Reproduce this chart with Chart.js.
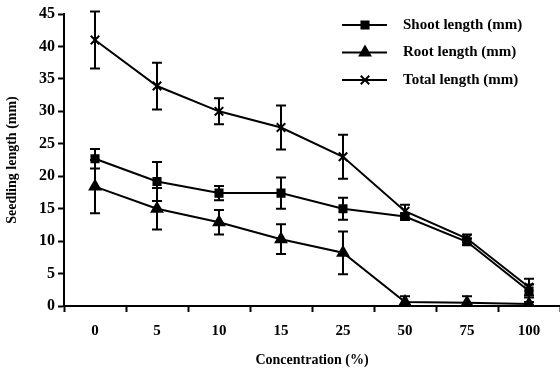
<!DOCTYPE html>
<html>
<head>
<meta charset="utf-8">
<script src="https://cdn.jsdelivr.net/npm/chart.js@4"></script>
<style>
  html, body { margin: 0; padding: 0; background: #fff; }
  #wrap { width: 560px; height: 373px; }
</style>
</head>
<body>
<div id="wrap"><canvas id="grafico" width="560" height="373"></canvas></div>
<script>
const concentracoes = ["0", "5", "10", "15", "25", "50", "75", "100"];
const shoot = [22.7, 19.2, 17.4, 17.4, 15.0, 13.8, 9.9, 2.3];
const shootErr = [1.5, 3.0, 1.1, 2.4, 1.7, 0.5, 0.5, 1.0];
const root = [18.4, 15.0, 12.9, 10.3, 8.2, 0.6, 0.5, 0.3];
const rootErr = [4.1, 3.2, 1.9, 2.3, 3.3, 0.9, 1.0, 0.3];
const total = [41.0, 33.9, 30.0, 27.5, 23.0, 14.6, 10.4, 2.9];
const totalErr = [4.4, 3.6, 2.0, 3.4, 3.4, 1.0, 0.6, 1.3];
const nomes = ["Shoot length (mm)", "Root length (mm)", "Total length (mm)"];

const fonte = "'Liberation Serif', 'DejaVu Serif', serif";

// barras de erro
const errorBars = {
  id: "errorBars",
  afterDatasetsDraw(chart) {
    const ctx = chart.ctx;
    const y = chart.scales.y;
    chart.data.datasets.forEach((ds, i) => {
      const meta = chart.getDatasetMeta(i);
      meta.data.forEach((pt, j) => {
        const e = ds.errors[j];
        const top = y.getPixelForValue(ds.data[j] + e);
        const bot = y.getPixelForValue(Math.max(0, ds.data[j] - e));
        ctx.save();
        ctx.strokeStyle = "#000";
        ctx.lineWidth = 2;
        ctx.beginPath();
        ctx.moveTo(pt.x, top); ctx.lineTo(pt.x, bot);
        ctx.moveTo(pt.x - 5, top); ctx.lineTo(pt.x + 5, top);
        ctx.moveTo(pt.x - 5, bot); ctx.lineTo(pt.x + 5, bot);
        ctx.stroke();
        ctx.restore();
      });
    });
  }
};

// legenda com linha + marcador
const legenda = {
  id: "legenda",
  afterDraw(chart) {
    const ctx = chart.ctx;
    chart.data.datasets.forEach((ds, i) => {
      const yy = 25 + i * 27.5;
      ctx.save();
      ctx.strokeStyle = "#000";
      ctx.lineWidth = 2;
      ctx.beginPath();
      ctx.moveTo(342, yy); ctx.lineTo(387, yy);
      ctx.stroke();
      Chart.helpers.drawPoint(ctx, {
        pointStyle: ds.pointStyle, radius: ds.pointRadius, borderWidth: 2
      }, 365, yy);
      ctx.fillStyle = "#000";
      ctx.font = "bold 15px " + fonte;
      ctx.textBaseline = "middle";
      ctx.fillText(ds.label, 403, yy);
      ctx.restore();
    });
  }
};

function serie(label, data, errors, style, radius) {
  return {
    label, data, errors,
    borderColor: "#000",
    backgroundColor: "#000",
    borderWidth: 2,
    pointStyle: style,
    pointRadius: radius,
    pointBorderWidth: 2,
    pointBorderColor: "#000",
    pointBackgroundColor: "#000",
    tension: 0
  };
}

new Chart(document.getElementById("grafico"), {
  type: "line",
  data: {
    labels: concentracoes,
    datasets: [
      serie(nomes[0], shoot, shootErr, "rect", 5),
      serie(nomes[1], root, rootErr, "triangle", 6),
      serie(nomes[2], total, totalErr, "crossRot", 6)
    ]
  },
  options: {
    responsive: false,
    animation: false,
    layout: { autoPadding: false, padding: { top: 14, right: 0, left: 0, bottom: 0 } },
    plugins: { legend: { display: false }, tooltip: { enabled: false } },
    scales: {
      x: {
        offset: true,
        grid: { offset: true, drawOnChartArea: false, drawTicks: true, tickLength: 6, tickWidth: 2, tickColor: "#000" },
        border: { display: true, color: "#000", width: 2 },
        ticks: { color: "#000", padding: 10, font: { family: fonte, size: 15, weight: "bold" } },
        title: { display: true, text: "Concentration (%)", color: "#000", padding: { top: 7 }, font: { family: fonte, size: 14, weight: "bold" } },
        afterFit(s) { s.height = 67; }
      },
      y: {
        min: 0, max: 45,
        ticks: { stepSize: 5, color: "#000", padding: 3, font: { family: fonte, size: 16, weight: "bold" } },
        grid: { drawOnChartArea: false, drawTicks: true, tickLength: 6, tickWidth: 2, tickColor: "#000" },
        border: { display: true, color: "#000", width: 2 },
        title: { display: true, text: "Seedling length (mm)", color: "#000", padding: { bottom: 4 }, font: { family: fonte, size: 14, weight: "bold" } },
        afterFit(s) { s.width = 64; }
      }
    }
  },
  plugins: [errorBars, legenda]
});
</script>
</body>
</html>
